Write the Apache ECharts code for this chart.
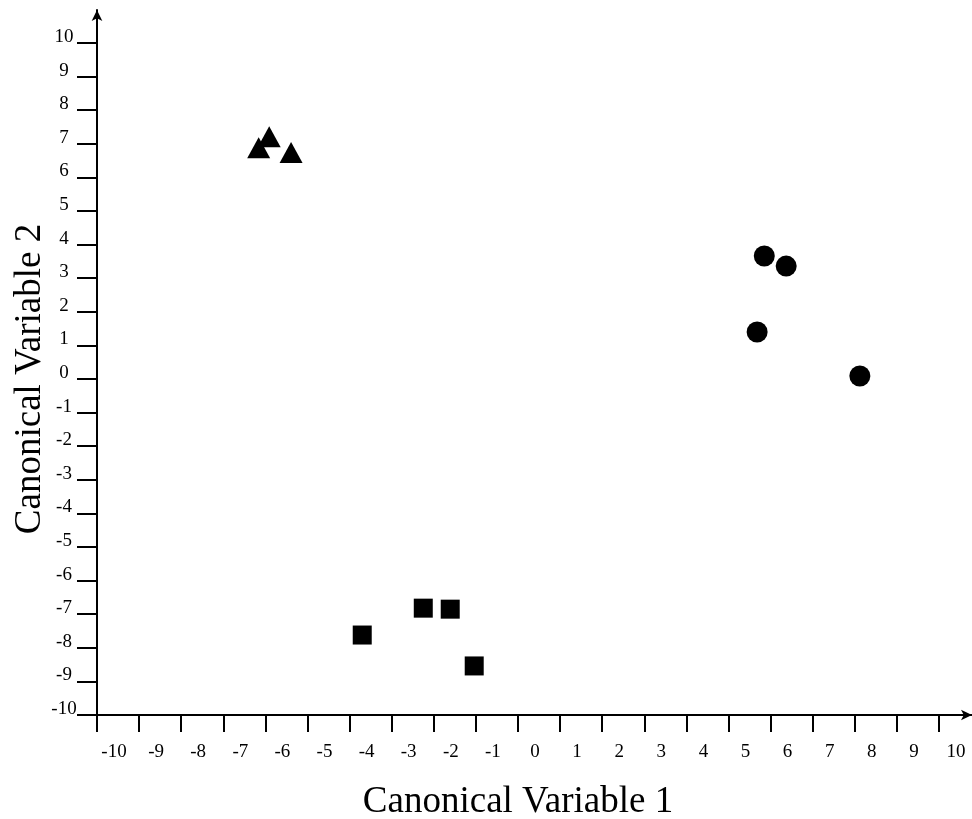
<!DOCTYPE html>
<html><head><meta charset="utf-8">
<script src="https://cdn.jsdelivr.net/npm/echarts@6/dist/echarts.min.js"></script>
<style>html,body{margin:0;padding:0;background:#fff}#c{width:972px;height:819px}</style>
</head><body><div id="c"></div>
<script>
// ---- data ----
const tickValues = [-10,-9,-8,-7,-6,-5,-4,-3,-2,-1,0,1,2,3,4,5,6,7,8,9,10];
const xTitle = 'Canonical Variable 1';
const yTitle = 'Canonical Variable 2';
const circlesX = [5.85, 6.37, 5.68, 8.12];
const circlesY = [3.66, 3.36, 1.40, 0.09];
const squaresX = [-3.70, -2.25, -1.61, -1.04];
const squaresY = [-7.62, -6.82, -6.85, -8.54];
const trianglesX = [-5.91, -6.16, -5.39];
const trianglesY = [7.21, 6.88, 6.74];

const pair = (xs, ys) => xs.map((x, i) => [x, ys[i]]);
const FONT = '"Liberation Serif", "DejaVu Serif", serif';
const tMin = tickValues[0], tMax = tickValues[tickValues.length - 1];

const chart = echarts.init(document.getElementById('c'), null, {renderer: 'canvas'});
chart.setOption({
  animation: false,
  backgroundColor: '#fff',
  grid: [
    {left: 97, right: 33, top: 43, bottom: 104, containLabel: false, outerBoundsMode: 'none'},
    {left: 97, right: 0, top: 10, bottom: 104, containLabel: false, outerBoundsMode: 'none'}
  ],
  xAxis: [
    {
      type: 'value', gridIndex: 0, min: tMin, max: tMax, interval: 1,
      splitLine: {show: false},
      axisLine: {show: false, onZero: false},
      axisTick: {show: true, length: 17, lineStyle: {color: '#000', width: 2}},
      axisLabel: {
        show: true, margin: 28, color: '#000', fontSize: 19, fontFamily: FONT,
        padding: [0, 0, 0, 34], formatter: v => String(v)
      },
      name: xTitle, nameLocation: 'middle', nameGap: 69,
      nameTextStyle: {color: '#000', fontSize: 37, fontFamily: FONT}
    },
    {
      type: 'value', gridIndex: 1, min: 0, max: 1,
      splitLine: {show: false}, axisTick: {show: false}, axisLabel: {show: false},
      axisLine: {show: true, onZero: false, symbol: ['none', 'arrow'], symbolSize: [8, 11],
        lineStyle: {color: '#000', width: 2}}
    }
  ],
  yAxis: [
    {
      type: 'value', gridIndex: 0, min: tMin, max: tMax, interval: 1,
      splitLine: {show: false},
      axisLine: {show: false, onZero: false},
      axisTick: {show: true, length: 20, lineStyle: {color: '#000', width: 2}},
      axisLabel: {
        show: true, margin: 33, align: 'center', verticalAlign: 'bottom', lineHeight: 12,
        color: '#000', fontSize: 19, fontFamily: FONT, formatter: v => String(v)
      },
      name: yTitle, nameLocation: 'middle', nameGap: 48, nameMoveOverlap: false,
      nameTextStyle: {color: '#000', fontSize: 37, fontFamily: FONT}
    },
    {
      type: 'value', gridIndex: 1, min: 0, max: 1,
      splitLine: {show: false}, axisTick: {show: false}, axisLabel: {show: false},
      axisLine: {show: true, onZero: false, symbol: ['none', 'arrow'], symbolSize: [8, 11],
        lineStyle: {color: '#000', width: 2}}
    }
  ],
  series: [
    {type: 'scatter', xAxisIndex: 0, yAxisIndex: 0, symbol: 'circle', symbolSize: 21,
      itemStyle: {color: '#000', opacity: 1}, data: pair(circlesX, circlesY)},
    {type: 'scatter', xAxisIndex: 0, yAxisIndex: 0, symbol: 'rect', symbolSize: 19,
      itemStyle: {color: '#000', opacity: 1}, data: pair(squaresX, squaresY)},
    {type: 'scatter', xAxisIndex: 0, yAxisIndex: 0, symbol: 'triangle', symbolSize: [23, 21],
      itemStyle: {color: '#000', opacity: 1}, data: pair(trianglesX, trianglesY)}
  ]
});
</script></body></html>
